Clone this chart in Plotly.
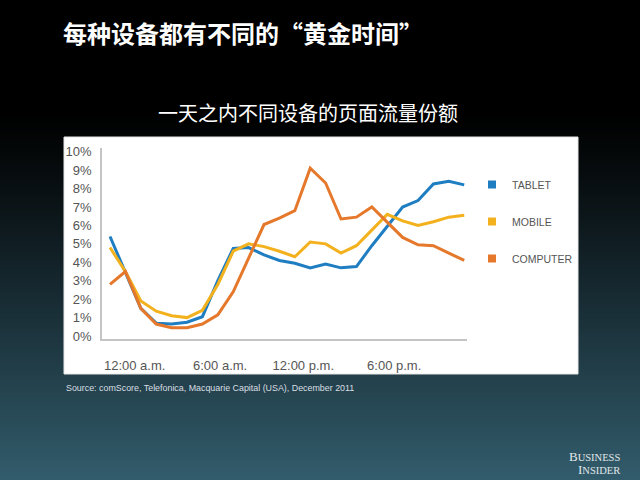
import plotly.graph_objects as go

W, H = 640, 480

hours = list(range(24))
tablet = [5.4, 3.5, 1.5, 0.7, 0.65, 0.75, 1.05, 3.0, 4.75, 4.8, 4.4, 4.1, 3.95, 3.7,
          3.9, 3.7, 3.77, 4.9, 5.95, 7.0, 7.35, 8.25, 8.4, 8.2]
mobile = [4.8, 3.5, 1.9, 1.35, 1.1, 1.0, 1.4, 2.8, 4.6, 5.0, 4.85, 4.6, 4.3, 5.1,
          5.0, 4.5, 4.9, 5.75, 6.6, 6.25, 6.0, 6.2, 6.45, 6.55]
computer = [2.8, 3.5, 1.5, 0.65, 0.45, 0.45, 0.65, 1.15, 2.4, 4.2, 6.05, 6.4, 6.8, 9.1,
            8.3, 6.35, 6.45, 7.0, 6.15, 5.35, 4.95, 4.9, 4.5, 4.1]

series_names = ["TABLET", "MOBILE", "COMPUTER"]
series_values = [tablet, mobile, computer]
series_colors = ["#1f7dc1", "#f3b11e", "#e5782a"]

x_tick_vals = [1.6, 7.15, 12.55, 18.45]
x_tick_text = ["12:00 a.m.", "6:00 a.m.", "12:00 p.m.", "6:00 p.m."]
y_tick_vals = list(range(0, 11))
y_tick_text = [f"{v}%" for v in y_tick_vals]

title_text = "每种设备都有不同的“黄金时间”"
subtitle_text = "一天之内不同设备的页面流量份额"
source_text = "Source: comScore, Telefonica, Macquarie Capital (USA), December 2011"


def px_x(p):
    return p / W


def px_y(p):
    return 1 - p / H


fig = go.Figure()

for name, vals, col in zip(series_names, series_values, series_colors):
    fig.add_trace(go.Scatter(
        x=hours, y=vals, mode="lines", name=name,
        line=dict(color=col, width=3),
        showlegend=False, hoverinfo="skip",
    ))
# legend entries (square swatches)
for name, col in zip(series_names, series_colors):
    fig.add_trace(go.Scatter(
        x=[None], y=[None], mode="markers", name=name,
        marker=dict(color=col, symbol="square", size=8),
        legendgroup=name, showlegend=True,
    ))

shapes = []
# background gradient: black top -> dark teal bottom
top_c = (0, 0, 0)
bot_c = (50, 92, 108)
start, step = 115, 3
shapes.append(dict(type="rect", xref="paper", yref="paper", x0=0, x1=1,
                   y0=px_y(start + 1), y1=1, fillcolor="black", line=dict(width=0),
                   layer="below"))
y = start
while y < H:
    t = (y + step / 2 - start) / (H - start)
    t = t ** 1.1
    c = tuple(int(round(a + (b - a) * t)) for a, b in zip(top_c, bot_c))
    shapes.append(dict(type="rect", xref="paper", yref="paper", x0=0, x1=1,
                       y0=px_y(min(y + step + 1, H)), y1=px_y(y),
                       fillcolor=f"rgb{c}", line=dict(width=0), layer="below"))
    y += step
# white chart panel
shapes.append(dict(type="rect", xref="paper", yref="paper",
                   x0=px_x(64), x1=px_x(578), y0=px_y(374), y1=px_y(137),
                   fillcolor="white", line=dict(color="#e6e6e6", width=1),
                   layer="below"))

annotations = [
    dict(text="<b>" + title_text + "</b>", xref="paper", yref="paper",
         x=px_x(61), y=px_y(33), xanchor="left", yanchor="middle", showarrow=False,
         font=dict(family="Noto Sans CJK SC", size=24, color="white")),
    dict(text=subtitle_text, xref="paper", yref="paper",
         x=px_x(308), y=px_y(112), xanchor="center", yanchor="middle", showarrow=False,
         font=dict(family="Noto Sans CJK SC", size=20, color="white")),
    dict(text=source_text, xref="paper", yref="paper",
         x=px_x(64), y=px_y(388), xanchor="left", yanchor="middle", showarrow=False,
         font=dict(family="Liberation Sans", size=8.9, color="#d9dfe2")),
    dict(text='<span style="font-size:13px">B</span>USINESS',
         xref="paper", yref="paper", x=px_x(622), y=px_y(456), xanchor="right",
         yanchor="middle", showarrow=False,
         font=dict(family="Liberation Serif", size=10.5, color="#e2e8ea")),
    dict(text='<span style="font-size:13px">I</span>NSIDER',
         xref="paper", yref="paper", x=px_x(622), y=px_y(469), xanchor="right",
         yanchor="middle", showarrow=False,
         font=dict(family="Liberation Serif", size=10.5, color="#e2e8ea")),
]

axis_font = dict(family="Liberation Sans", size=13, color="#555555")

fig.update_layout(
    width=W, height=H,
    autosize=False,
    margin=dict(l=0, r=0, t=0, b=0, pad=0, autoexpand=False),
    paper_bgcolor="black",
    plot_bgcolor="rgba(0,0,0,0)",
    shapes=shapes,
    annotations=annotations,
    xaxis=dict(domain=[px_x(102), px_x(467)], range=[-0.52, 23.18],
               automargin=False,
               showgrid=False, zeroline=False, showline=True,
               linecolor="#c4c4c4", linewidth=1.5,
               tickvals=x_tick_vals, ticktext=x_tick_text, ticks="",
               ticklabelstandoff=14, tickfont=axis_font, fixedrange=True),
    yaxis=dict(domain=[px_y(339), px_y(148)], range=[-0.16, 10.2],
               automargin=False,
               showgrid=False, zeroline=False, showline=True,
               linecolor="#c4c4c4", linewidth=1.5,
               tickvals=y_tick_vals, ticktext=y_tick_text, ticks="",
               ticklabelstandoff=6, tickfont=axis_font, fixedrange=True),
    legend=dict(x=px_x(472), y=px_y(170), xanchor="left", yanchor="top",
                bgcolor="rgba(0,0,0,0)", tracegroupgap=18,
                font=dict(family="Liberation Sans", size=10.5, color="#555555"),
                itemwidth=30),
    showlegend=True,
)

fig.write_html("out.html",
               config={"responsive": False, "displayModeBar": False},
               post_script="document.body.style.margin='0px';"
                           "document.body.style.padding='0px';"
                           "document.body.style.overflow='hidden';"
                           "document.body.style.background='rgb(50,92,108)';")
